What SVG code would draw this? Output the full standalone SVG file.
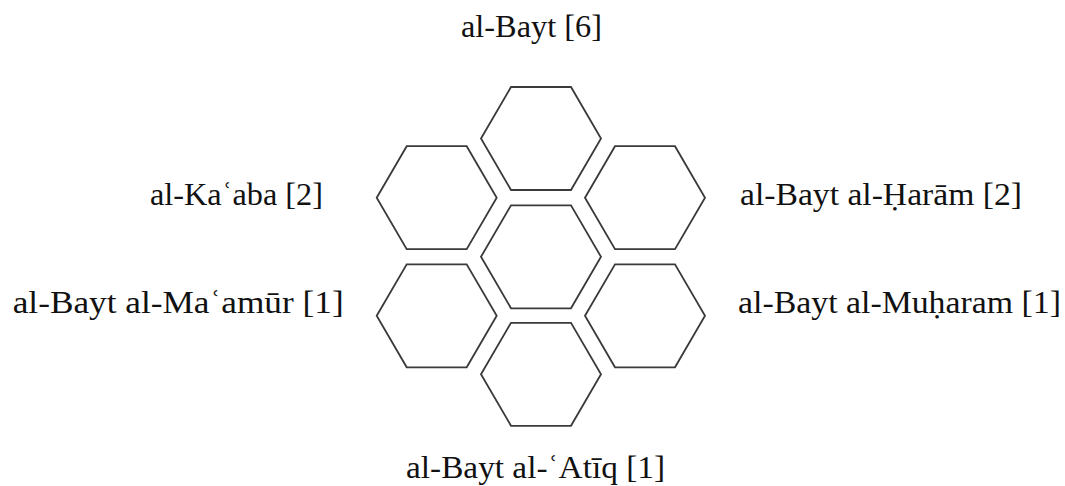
<svg xmlns="http://www.w3.org/2000/svg" width="1065" height="486" viewBox="0 0 1065 486">
<style>
.hex{fill:#ffffff;stroke:#3a3a3a;stroke-width:1.8;stroke-linejoin:miter}
.lbl{font-family:"Liberation Serif","DejaVu Serif",serif;font-size:31px;fill:#111111}
</style>
<defs>
<polygon id="h" points="-60,0 -30,-51.5 30,-51.5 60,0 30,51.5 -30,51.5"/>
</defs>
<rect width="1065" height="486" fill="#ffffff"/>
<g id="connectors"></g>
<g id="hex-top"><use href="#h" class="hex" x="541" y="138.5"/></g>
<g id="hex-upper-left"><use href="#h" class="hex" x="436.7" y="197.7"/></g>
<g id="hex-upper-right"><use href="#h" class="hex" x="645" y="197.7"/></g>
<g id="hex-center"><use href="#h" class="hex" x="541" y="256.8"/></g>
<g id="hex-lower-left"><use href="#h" class="hex" x="436.7" y="315.8"/></g>
<g id="hex-lower-right"><use href="#h" class="hex" x="645" y="315.8"/></g>
<g id="hex-bottom"><use href="#h" class="hex" x="541" y="374.3"/></g>
<g id="label-top"><text class="lbl" x="461" y="37.3" textLength="141" lengthAdjust="spacingAndGlyphs">al-Bayt [6]</text></g>
<g id="label-upper-left"><text class="lbl" x="150" y="205" textLength="173" lengthAdjust="spacingAndGlyphs">al-Kaʿaba [2]</text></g>
<g id="label-lower-left"><text class="lbl" x="12.7" y="313.3" textLength="331" lengthAdjust="spacingAndGlyphs">al-Bayt al-Maʿamūr [1]</text></g>
<g id="label-upper-right"><text class="lbl" x="740" y="205" textLength="282" lengthAdjust="spacingAndGlyphs">al-Bayt al-Ḥarām [2]</text></g>
<g id="label-lower-right"><text class="lbl" x="738" y="313.3" textLength="323" lengthAdjust="spacingAndGlyphs">al-Bayt al-Muḥaram [1]</text></g>
<g id="label-bottom"><text class="lbl" x="406" y="477.5" textLength="259" lengthAdjust="spacingAndGlyphs">al-Bayt al-ʿAtīq [1]</text></g>
</svg>
